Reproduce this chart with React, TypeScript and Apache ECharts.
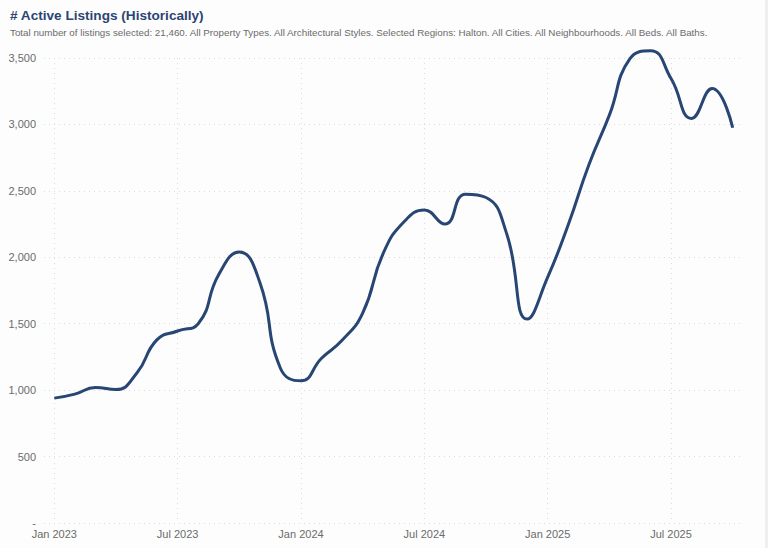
import React, { useEffect, useRef } from "react";
import * as echarts from "echarts";

const months: string[] = [
  "Jan 2023", "Feb 2023", "Mar 2023", "Apr 2023", "May 2023", "Jun 2023",
  "Jul 2023", "Aug 2023", "Sep 2023", "Oct 2023", "Nov 2023", "Dec 2023",
  "Jan 2024", "Feb 2024", "Mar 2024", "Apr 2024", "May 2024", "Jun 2024",
  "Jul 2024", "Aug 2024", "Sep 2024", "Oct 2024", "Nov 2024", "Dec 2024",
  "Jan 2025", "Feb 2025", "Mar 2025", "Apr 2025", "May 2025", "Jun 2025",
  "Jul 2025", "Aug 2025", "Sep 2025", "Oct 2025",
];

const activeListings: number[] = [
  940, 970, 1020, 1005, 1125, 1380,
  1445, 1500, 1870, 2040, 1810, 1165,
  1070, 1240, 1375, 1580, 2030, 2265,
  2355, 2250, 2475, 2450, 2180, 1535,
  1850, 2245, 2695, 3070, 3495, 3555,
  3345, 3045, 3270, 2975,
];

const xTickIndices: number[] = [0, 6, 12, 18, 24, 30];

const titleText = "# Active Listings (Historically)";
const subtitleText =
  "Total number of listings selected: 21,460. All Property Types. All Architectural Styles. Selected Regions: Halton. All Cities. All Neighbourhoods. All Beds. All Baths.";

export default function App() {
  const ref = useRef<HTMLDivElement>(null);
  useEffect(() => {
    if (!ref.current) return;
    const chart = echarts.init(ref.current, null, { renderer: "svg" });
    const font = "'Liberation Sans', Arial, Helvetica, sans-serif";
    chart.setOption({
      animation: false,
      backgroundColor: "#fdfdfd",
      textStyle: { fontFamily: font },
      title: {
        text: titleText,
        subtext: subtitleText,
        left: 5,
        top: 3,
        itemGap: 5,
        textStyle: { fontFamily: font, fontSize: 13.6, fontWeight: "bold", color: "#2b4573" },
        subtextStyle: { fontFamily: font, fontSize: 9.8, color: "#6b6b6b" },
      },
      graphic: [
        {
          type: "rect",
          right: 0,
          top: 0,
          shape: { width: 3, height: 548 },
          style: { fill: "#efefef" },
          silent: true,
        },
      ],
      grid: { left: 44, right: 25, top: 58, bottom: 25, containLabel: false },
      xAxis: {
        type: "value",
        min: -0.5,
        max: 33.5,
        axisLine: { show: false },
        axisTick: { show: false, customValues: xTickIndices },
        axisLabel: {
          customValues: xTickIndices,
          color: "#6b6b6b",
          fontSize: 11,
          margin: 5,
          formatter: (v: number) => months[Math.round(v)] ?? "",
        },
        splitLine: {
          show: true,
          lineStyle: { color: "#dcdcdc", type: [1, 4], width: 1 },
        },
      },
      yAxis: {
        type: "value",
        min: 0,
        max: 3500,
        interval: 500,
        axisLine: { show: false },
        axisTick: { show: false },
        axisLabel: {
          color: "#6b6b6b",
          fontSize: 11,
          margin: 8,
          formatter: (v: number) => (v === 0 ? "-" : v.toLocaleString("en-US")),
        },
        splitLine: {
          show: true,
          lineStyle: { color: "#dcdcdc", type: [1, 4], width: 1 },
        },
      },
      series: [
        {
          type: "line",
          data: activeListings.map((v, i) => [i, v]),
          smooth: 0.5,
          clip: false,
          showSymbol: false,
          lineStyle: { color: "#284673", width: 3 },
          itemStyle: { color: "#284673" },
        },
      ],
    });
    return () => chart.dispose();
  }, []);
  return <div ref={ref} style={{ width: 768, height: 548, position: "fixed", left: 0, top: 0 }} />;
}
